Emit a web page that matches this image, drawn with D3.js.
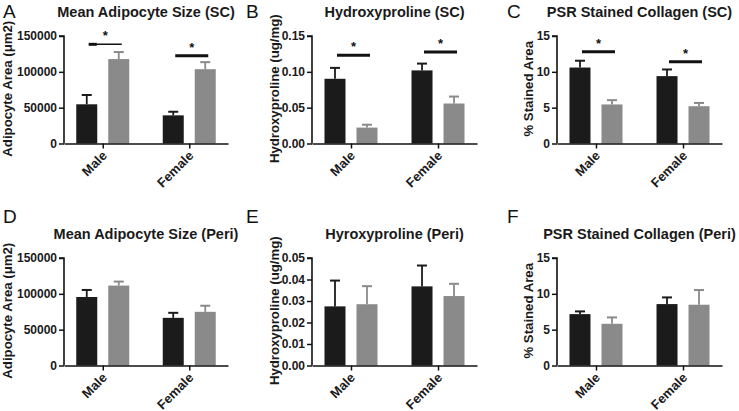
<!DOCTYPE html>
<html><head><meta charset="utf-8">
<script src="https://cdn.jsdelivr.net/npm/d3@7"></script>
<style>body{margin:0;background:#fff}svg{display:block}</style>
</head><body>
<script>
// ---- data ----
const groups = ["Male", "Female"];
const panelLetters = ["A", "B", "C", "D", "E", "F"];
const titles = ["Mean Adipocyte Size (SC)", "Hydroxyproline (SC)", "PSR Stained Collagen (SC)",
                "Mean Adipocyte Size (Peri)", "Hyroxyproline (Peri)", "PSR Stained Collagen (Peri)"];
const yLabels = ["Adipocyte Area (\u03bcm2)", "Hydroxyproline (ug/mg)", "% Stained Area",
                 "Adipocyte Area (\u03bcm2)", "Hydroxyproline (ug/mg)", "% Stained Area"];
const yMax = [150000, 0.15, 15, 150000, 0.05, 15];
const yTicks = [[0, 50000, 100000, 150000], [0, 0.05, 0.10, 0.15], [0, 5, 10, 15],
                [0, 50000, 100000, 150000], [0, 0.01, 0.02, 0.03, 0.04, 0.05], [0, 5, 10, 15]];
const tickFormats = ["d", ".2f", "d", "d", ".2f", "d"];
const darkMean = [[54700, 39300], [0.0903, 0.102], [10.6, 9.4], [95600, 66500], [0.0275, 0.0368], [7.17, 8.57]];
const darkSem  = [[13000, 5000], [0.0152, 0.0095], [0.95, 0.93], [9800, 7000], [0.012, 0.0097], [0.38, 0.93]];
const greyMean = [[117800, 103700], [0.0222, 0.0558], [5.45, 5.2], [111500, 74900], [0.0285, 0.0323], [5.82, 8.48]];
const greySem  = [[9800, 9800], [0.0040, 0.0097], [0.6, 0.46], [5600, 8500], [0.0084, 0.0057], [0.89, 2.05]];
// significance bars (panel index, group index, height in data units)
const sigPanel = [0, 0, 1, 1, 2, 2];
const sigGroup = [0, 1, 0, 1, 0, 1];
const sigY = [138400, 122500, 0.1231, 0.1277, 12.8, 11.4];

// ---- layout ----
const W = 739, H = 411;
const colAxisX = [64, 312, 557], colEndX = [228, 477, 722];
const rowY0 = [143.5, 365.5], rowTop = [36, 258];
const colLabelX = [7, 274.5, 528];
const colLetterX = [3, 246, 507];
const rowTitleY = [17, 239], rowLetterY = [18, 223];
const darkCol = "#1b1b1b", greyCol = "#8a8a8a";
const barW = 21, barOff = 16;
const font = "'Liberation Sans', Arial, sans-serif";

const svg = d3.select("body").append("svg").attr("width", W).attr("height", H)
  .style("font-family", font);

const scales = [];
for (let p = 0; p < 6; p++) {
  const c = p % 3, r = Math.floor(p / 3);
  const x = d3.scalePoint().domain(groups).range([colAxisX[c], colEndX[c]]).padding(0.448);
  const y = d3.scaleLinear().domain([0, yMax[p]]).range([rowY0[r], rowTop[r]]);
  scales.push({x, y});
  const g = svg.append("g");

  // letter
  g.append("text").attr("x", colLetterX[c]).attr("y", rowLetterY[r])
    .attr("font-size", 19).attr("fill", "#111").text(panelLetters[p]);
  // title
  g.append("text").attr("x", (colAxisX[c] + colEndX[c]) / 2).attr("y", rowTitleY[r])
    .attr("text-anchor", "middle").attr("font-weight", "bold").attr("font-size", 14.5)
    .attr("fill", "#1a1a1a").text(titles[p]);
  // y label
  g.append("text")
    .attr("transform", `translate(${colLabelX[c]},${(rowY0[r] + rowTop[r]) / 2 - 1}) rotate(-90)`)
    .attr("text-anchor", "middle").attr("dominant-baseline", "central")
    .attr("font-weight", "bold").attr("font-size", 13.2).attr("fill", "#1a1a1a").text(yLabels[p]);

  // bars
  groups.forEach((gName, i) => {
    const cx = x(gName);
    [[darkMean, darkSem, darkCol, -barOff], [greyMean, greySem, greyCol, barOff]].forEach(([m, s, col, off]) => {
      const v = m[p][i], e = s[p][i];
      const bx = cx + off;
      g.append("rect").attr("x", bx - barW / 2).attr("width", barW)
        .attr("y", y(v)).attr("height", y(0) - y(v)).attr("fill", col);
      g.append("line").attr("x1", bx).attr("x2", bx).attr("y1", y(v)).attr("y2", y(v + e))
        .attr("stroke", col).attr("stroke-width", 1.8);
      g.append("line").attr("x1", bx - 5).attr("x2", bx + 5).attr("y1", y(v + e)).attr("y2", y(v + e))
        .attr("stroke", col).attr("stroke-width", 2);
    });
    // rotated category label
    g.append("text")
      .attr("transform", `translate(${cx + 5},${rowY0[r] + 13}) rotate(-45)`)
      .attr("text-anchor", "end").attr("font-weight", "bold").attr("font-size", 13)
      .attr("fill", "#1a1a1a").text(gName);
  });

  // y axis
  const yAxis = d3.axisLeft(y).tickValues(yTicks[p]).tickFormat(d3.format(tickFormats[p]))
    .tickSize(5).tickPadding(2);
  const ya = g.append("g").attr("transform", `translate(${colAxisX[c]},0)`).call(yAxis);
  // x axis
  const xa = g.append("g").attr("transform", `translate(0,${rowY0[r]})`)
    .call(d3.axisBottom(x).tickSize(5).tickSizeOuter(0).tickFormat(""));
  [ya, xa].forEach(a => {
    a.select(".domain").attr("stroke", "#111").attr("stroke-width", 1.6);
    a.selectAll(".tick line").attr("stroke", "#111").attr("stroke-width", 1.5);
    a.selectAll("text").attr("font-family", font).attr("font-weight", "bold")
      .attr("font-size", 12).attr("fill", "#1a1a1a");
  });
  ya.select(".domain").attr("d", `M-5,${y(yMax[p])}H0V${y(0)}`);
}

// significance markers
sigY.forEach((v, k) => {
  const p = sigPanel[k], {x, y} = scales[p];
  const cx = x(groups[sigGroup[k]]);
  const x1 = cx - barOff + 2, x2 = cx + barOff + 3;
  svg.append("line").attr("x1", x1).attr("x2", x2).attr("y1", y(v)).attr("y2", y(v))
    .attr("stroke", "#111").attr("stroke-width", (p === 0 && k === 0) ? 1.4 : 3);
  if (p === 0 && k === 0) {
    svg.append("line").attr("x1", x1).attr("x2", x1 + 8).attr("y1", y(v)).attr("y2", y(v))
      .attr("stroke", "#111").attr("stroke-width", 3);
  }
  svg.append("text").attr("x", (x1 + x2) / 2).attr("y", y(v) - 4)
    .attr("text-anchor", "middle").attr("font-weight", "bold").attr("font-size", 13)
    .attr("fill", "#111").text("*");
});
</script>
</body></html>
